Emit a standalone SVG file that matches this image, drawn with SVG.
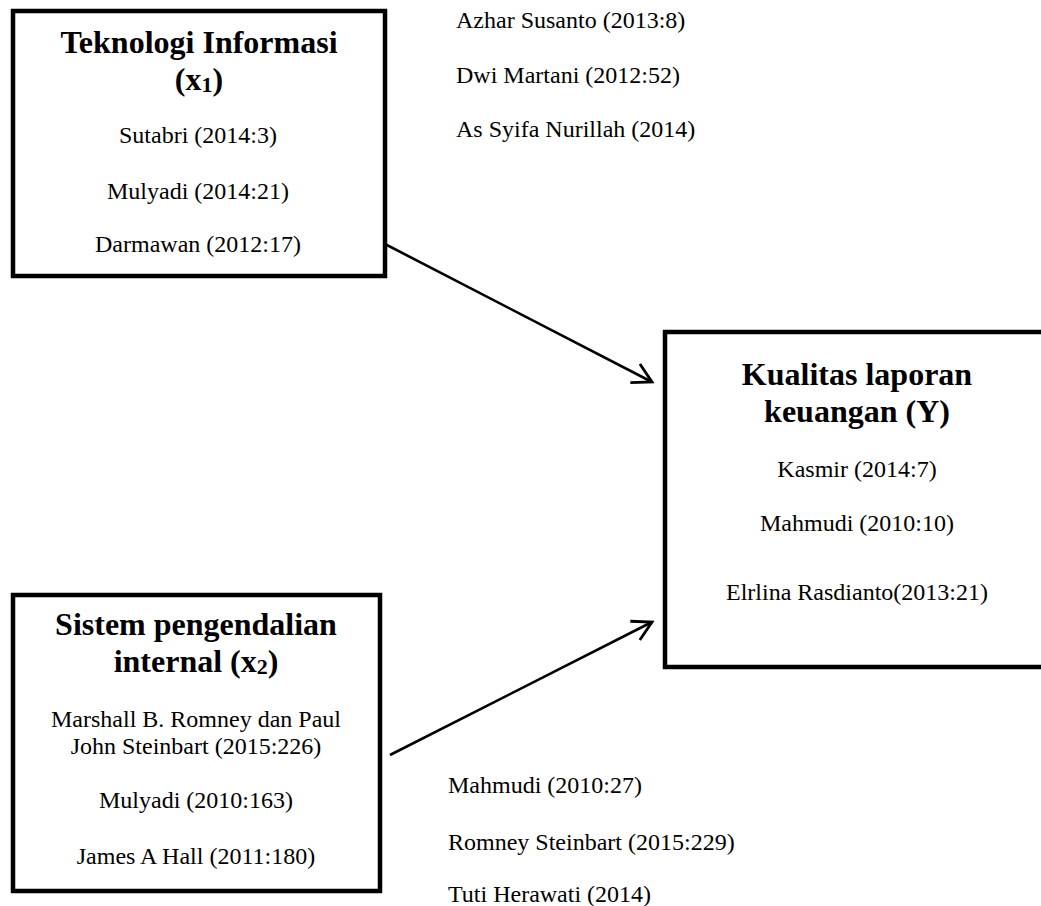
<svg xmlns="http://www.w3.org/2000/svg" width="1041" height="906" viewBox="0 0 1041 906">
<style>
.box{fill:#fff;stroke:#000;stroke-width:4.5}
.t{font-family:"Liberation Serif","Times New Roman",serif;font-weight:bold;font-size:32px;fill:#000;text-anchor:middle}
.r{font-family:"Liberation Serif","Times New Roman",serif;font-size:24px;fill:#000;text-anchor:middle}
.n{font-family:"Liberation Serif","Times New Roman",serif;font-size:24px;fill:#000}
.c{fill:none;stroke:#000;stroke-width:2.6}
</style>
<defs>
<marker id="arr" markerUnits="userSpaceOnUse" markerWidth="30" markerHeight="30" viewBox="-24 -15 30 30" refX="0" refY="0" orient="auto">
<path d="M-19,-10.5 L0,0 L-19,10.5" fill="none" stroke="#000" stroke-width="2.8" stroke-linejoin="miter"/>
</marker>
</defs>
<rect width="1041" height="906" fill="#fff"/>
<g id="connectors">
<line class="c" x1="383" y1="243" x2="652" y2="382" marker-end="url(#arr)"/>
<line class="c" x1="390" y1="755" x2="652" y2="622" marker-end="url(#arr)"/>
</g>
<g id="node-x1">
<rect class="box" x="13" y="11" width="372" height="265"/>
<text class="t" x="199" y="53">Teknologi Informasi</text>
<text class="t" x="199" y="90">(x<tspan font-size="22px" dy="2">1</tspan><tspan dy="-2">)</tspan></text>
<text class="r" x="198" y="143">Sutabri (2014:3)</text>
<text class="r" x="198" y="199">Mulyadi (2014:21)</text>
<text class="r" x="198" y="252">Darmawan (2012:17)</text>
</g>
<g id="node-x2">
<rect class="box" x="13" y="595" width="367" height="296"/>
<text class="t" x="196" y="635">Sistem pengendalian</text>
<text class="t" x="196" y="672">internal (x<tspan font-size="22px" dy="2">2</tspan><tspan dy="-2">)</tspan></text>
<text class="r" x="196" y="727">Marshall B. Romney dan Paul</text>
<text class="r" x="196" y="754">John Steinbart (2015:226)</text>
<text class="r" x="196" y="808">Mulyadi (2010:163)</text>
<text class="r" x="196" y="864">James A Hall (2011:180)</text>
</g>
<g id="node-y">
<rect class="box" x="665" y="332" width="384" height="335"/>
<text class="t" x="857" y="385">Kualitas laporan</text>
<text class="t" x="857" y="422">keuangan (Y)</text>
<text class="r" x="857" y="477">Kasmir (2014:7)</text>
<text class="r" x="857" y="531">Mahmudi (2010:10)</text>
<text class="r" x="857" y="600">Elrlina Rasdianto(2013:21)</text>
</g>
<g id="refs-x1-y">
<text class="n" x="456" y="28">Azhar Susanto (2013:8)</text>
<text class="n" x="456" y="83">Dwi Martani (2012:52)</text>
<text class="n" x="456" y="137">As Syifa Nurillah (2014)</text>
</g>
<g id="refs-x2-y">
<text class="n" x="448" y="793">Mahmudi (2010:27)</text>
<text class="n" x="448" y="850">Romney Steinbart (2015:229)</text>
<text class="n" x="448" y="902">Tuti Herawati (2014)</text>
</g>
</svg>
